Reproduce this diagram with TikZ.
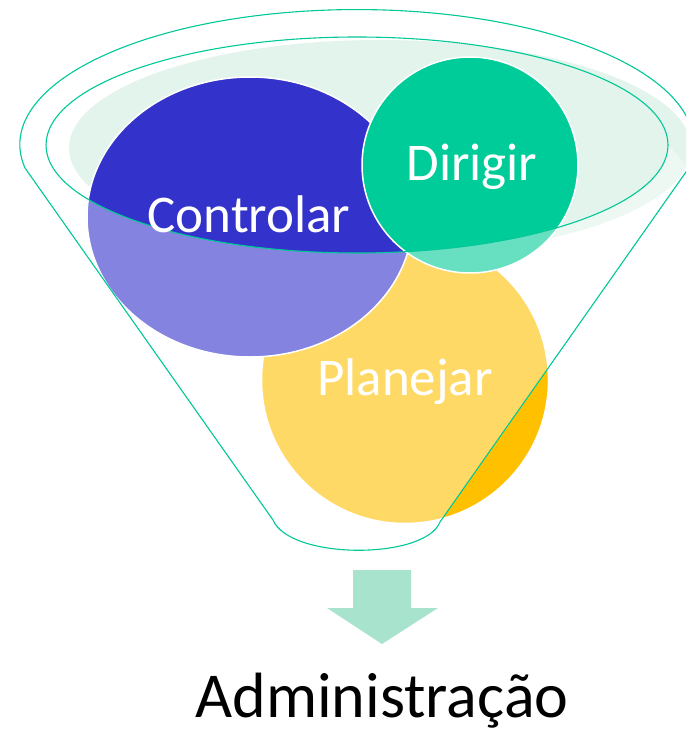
\documentclass[tikz,border=0pt]{standalone}
\usepackage{fontspec}
\setmainfont{Carlito}
\usetikzlibrary{shapes.geometric}
\definecolor{ctrlc}{HTML}{3333CC}
\definecolor{dirc}{HTML}{00CC99}
\definecolor{planc}{HTML}{FFC000}
\definecolor{rimfill}{HTML}{E3F4EC}
\definecolor{tealline}{HTML}{00C896}
\definecolor{arrowc}{HTML}{A8E4CD}
\begin{document}
\begin{tikzpicture}[x=1pt,y=-1pt,
  bubble/.style={draw=white,line width=1.5pt,inner sep=0pt},
  btext/.style={text=white,anchor=base,inner sep=0pt,font=\fontsize{53}{60}\selectfont},
  tline/.style={draw=tealline,line width=1.1pt},
]
\useasboundingbox (0,0) rectangle (686,733);
\clip (0,0) rectangle (686,733);
% light rim fill
\fill[rimfill] (380,148) ellipse [x radius=311, y radius=108];
% bubbles
\node[bubble,circle,fill=planc,minimum size=287pt] (plan) at (405,380) {};
\node[bubble,ellipse,fill=ctrlc,minimum width=326pt,minimum height=280pt] (ctrl) at (250,217) {};
\node[bubble,circle,fill=dirc,minimum size=216pt] (dir) at (470,165) {};
% funnel body translucent overlay
\fill[white,fill opacity=0.4]
  (25,168) -- (273,520) .. controls (290,560) and (425,560) .. (440,522)
  -- (689,168) -- (668,145)
  arc[start angle=0,end angle=180,x radius=311,y radius=108] -- cycle;
% inner rim
\draw[tline] (357,145) ellipse [x radius=311, y radius=108];
% funnel outline
\draw[tline,line join=round]
  (25,168) arc[start angle=170,end angle=370,x radius=337,y radius=135]
  -- (440,522) .. controls (425,560) and (290,560) .. (273,520) -- cycle;
% texts
\node[btext] (tctrl) at (249,232) {Controlar};
\node[btext] (tdir) at (472,180) {Dirigir};
\node[btext] (tplan) at (405,395) {Planejar};
% arrow
\fill[arrowc] (353,570) -- (411,570) -- (411,608) -- (438,608) -- (382,644) -- (327,608) -- (353,608) -- cycle;
\node[anchor=base,inner sep=0pt,font=\fontsize{64}{72}\selectfont] (adm) at (382,717) {Administração};
\end{tikzpicture}
\end{document}
